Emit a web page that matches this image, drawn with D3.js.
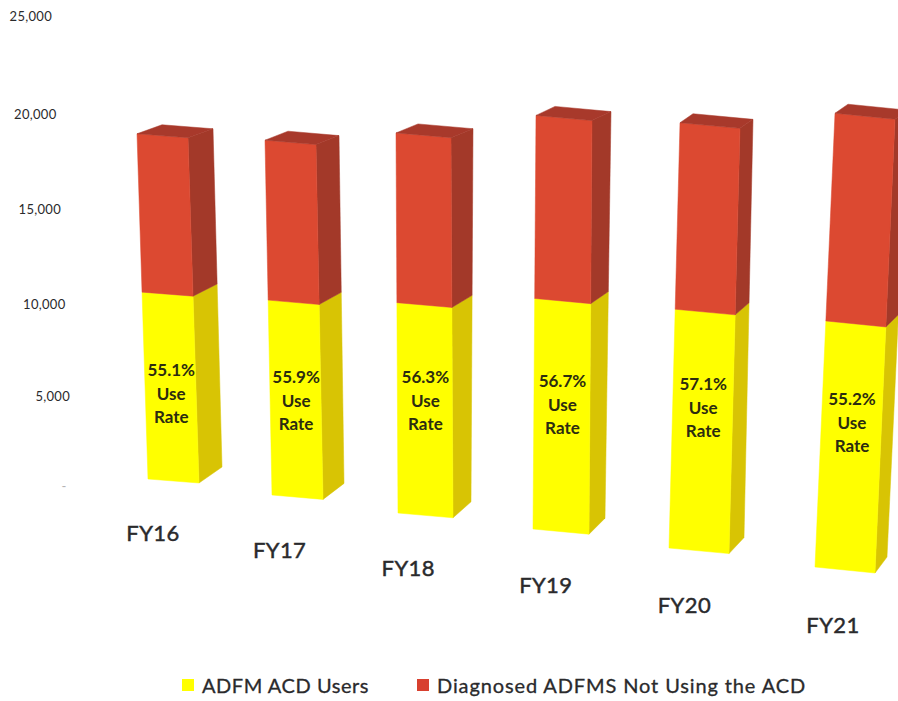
<!DOCTYPE html>
<html>
<head>
<meta charset="utf-8">
<script src="https://cdn.jsdelivr.net/npm/d3@7/dist/d3.min.js"></script>
<style>
  html, body { margin: 0; padding: 0; background: #fff; }
  svg { display: block; }
  text { font-family: Lato, "Open Sans", sans-serif; fill: #2a2a2c; }
</style>
</head>
<body>
<svg id="chart" width="898" height="701"></svg>
<script>
// Fiscal years and the two stacked series
const fiscalYears = ["FY16", "FY17", "FY18", "FY19", "FY20", "FY21"];
const acdUsers    = [10524, 10481, 10810, 11340, 11277, 11178];
const nonUsers    = [8576, 8269, 8390, 8660, 8473, 9072];
const useRates    = ["55.1%", "55.9%", "56.3%", "56.7%", "57.1%", "55.2%"];
const axisTicks   = [0, 5000, 10000, 15000, 20000, 25000];
const seriesNames = ["ADFM ACD Users", "Diagnosed ADFMS Not Using the ACD"];

const svg = d3.select("#chart");
const idx = fiscalYears.map((_, i) => i);

// The scene is tilted: every bar sits lower, wider and closer than the one before it.
const baseX   = d3.scaleLinear().domain(idx).range([148, 272, 398, 533, 669, 815]);
const baseY   = d3.scaleLinear().domain(idx).range([479, 495, 513, 529, 548, 567]);
const lean    = d3.scaleLinear().domain(idx).range([-11, -7, -2, 3, 11, 20]);
const barW    = d3.scaleLinear().domain(idx).range([51, 51, 55, 56, 60, 60]);
const skewY   = d3.scaleLinear().domain([0, 5]).range([4, 6]);
const fullH   = d3.scaleLinear().domain([0, 5]).range([362, 448]);
const depthXb = d3.scaleLinear().domain(idx).range([23, 21, 18, 16, 15, 12]);
const depthXt = d3.scaleLinear().domain(idx).range([25, 23, 22, 19, 13, 13]);
const depthYb = -16, depthYt = -9;
const rise    = d3.scalePow().exponent(1.03).domain([0, 20000]).range([0, 1]);

// Screen position of a bar corner: u runs across the front, w runs into the depth
function corner(i, v, u, w) {
  const total = acdUsers[i] + nonUsers[i];
  const h = rise(v) * fullH(i);
  const t = rise(v) / rise(total);
  const x = baseX(i) + lean(i) * t + u * barW(i) + w * (depthXb(i) * (1 - t) + depthXt(i) * t);
  const y = baseY(i) - h + u * skewY(i) + w * (depthYb * (1 - t) + depthYt * t);
  return [x, y];
}

const faces = [
  { name: "side",  pts: (i, a, b) => [corner(i, a, 1, 0), corner(i, a, 1, 1), corner(i, b, 1, 1), corner(i, b, 1, 0)] },
  { name: "front", pts: (i, a, b) => [corner(i, a, 0, 0), corner(i, a, 1, 0), corner(i, b, 1, 0), corner(i, b, 0, 0)] }
];
const palette = [
  { front: "#ffff00", side: "#d8c404", top: "#d8c404" },
  { front: "#dc4931", side: "#a33929", top: "#a8392b" }
];
const line = d3.line();

// Bars: a stack of two segments with a front and side face, capped by a top face
const bars = svg.selectAll("g.bar").data(idx).join("g").attr("class", "bar");
bars.each(function (i) {
  const g = d3.select(this);
  const u = acdUsers[i], total = u + nonUsers[i];
  [[0, u, palette[0]], [u, total, palette[1]]].forEach(([a, b, c]) => {
    faces.forEach(f => {
      g.append("path").attr("d", line(f.pts(i, a, b)) + "Z")
        .attr("fill", c[f.name]).attr("stroke", c[f.name]).attr("stroke-width", 0.5);
    });
  });
  const cap = [corner(i, total, 0, 0), corner(i, total, 1, 0), corner(i, total, 1, 1), corner(i, total, 0, 1)];
  g.append("path").attr("d", line(cap) + "Z")
    .attr("fill", palette[1].top).attr("stroke", palette[1].top).attr("stroke-width", 0.5);
});

// Use-rate captions sit on the yellow front face at a height that varies along the row
const captionAt = d3.scaleLinear().domain(idx).range([0.471, 0.502, 0.552, 0.558, 0.605, 0.606]);
const captionRows = [[-24, d => useRates[d]], [0, () => "Use"], [23, () => "Rate"]];
idx.forEach(i => {
  const p = corner(i, acdUsers[i] * captionAt(i), 0.5, 0);
  captionRows.forEach(([dy, label]) => {
    svg.append("text").attr("x", p[0] + 0.5).attr("y", p[1] + dy + 5.5)
      .attr("text-anchor", "middle").attr("font-size", 17).attr("font-weight", 700)
      .style("fill", "#2c2c10").text(label(i));
  });
});

// Fiscal-year labels below each bar
const labelDX = d3.scaleLinear().domain([0, 5]).range([5, 18]);
const labelDY = d3.scaleLinear().domain([0, 5]).range([62, 65.5]);
svg.selectAll("text.year").data(idx).join("text").attr("class", "year")
  .attr("x", i => baseX(i) + labelDX(i))
  .attr("y", i => baseY(i) + labelDY(i))
  .attr("text-anchor", "middle").attr("font-size", 22).attr("letter-spacing", 0.4)
  .attr("stroke", "#2a2a2c").attr("stroke-width", 0.45)
  .text(i => fiscalYears[i]);

// Value axis: labels step in from the left edge as the values fall
const axisY = d3.scaleLinear().domain(axisTicks).range([487, 396, 304, 209, 114, 16]);
const axisX = d3.scaleLinear().domain([5000, 25000]).range([70, 52]);
svg.selectAll("text.tick").data(axisTicks.filter(d => d > 0)).join("text").attr("class", "tick")
  .attr("x", d => axisX(d)).attr("y", d => axisY(d) + 4.5)
  .attr("text-anchor", "end").attr("font-size", 13).attr("letter-spacing", 0.3)
  .text(d => d3.format(",")(d));
svg.append("text").attr("x", 64).attr("y", axisY(0) + 4).attr("text-anchor", "middle")
  .attr("font-size", 13).style("fill", "#b4b4b4").text("-");

// Legend
const legendX = d3.scaleOrdinal().domain(seriesNames).range([182, 417]);
const legendSpacing = d3.scaleOrdinal().domain(seriesNames).range([0.55, 0.88]);
const legend = svg.selectAll("g.key").data(seriesNames).join("g").attr("class", "key")
  .attr("transform", d => `translate(${legendX(d)},679)`);
legend.append("rect").attr("width", 12).attr("height", 12)
  .attr("fill", (d, i) => i ? "#d8402f" : "#ffff00");
legend.append("text").attr("x", 20).attr("y", 13.5).attr("font-size", 20)
  .attr("letter-spacing", d => legendSpacing(d))
  .attr("stroke", "#2a2a2c").attr("stroke-width", 0.3)
  .text(d => d);
</script>
</body>
</html>
